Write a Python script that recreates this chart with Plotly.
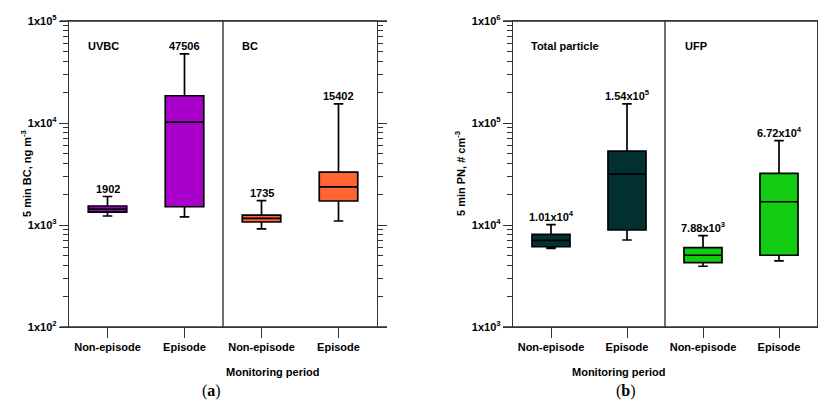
import numpy as np
import plotly.graph_objects as go

# ---- data ----
periods = ["Non-episode", "Episode", "Non-episode", "Episode"]

# panel (a): UVBC (first two), BC (last two), ng m-3
bc_q1 = [1340, 1510, 1070, 1720]
bc_median = [1430, 10200, 1160, 2360]
bc_q3 = [1535, 18500, 1250, 3300]
bc_low = [1225, 1200, 915, 1095]
bc_high = [1902, 47506, 1735, 15402]
bc_labels = ["1902", "47506", "1735", "15402"]
bc_colors = ["#9A00BA", "#AA00CC", "#FF6633", "#FF6633"]

# panel (b): Total particle (first two), UFP (last two), # cm-3
pn_q1 = [6120, 8930, 4270, 5050]
pn_median = [7080, 31600, 5050, 16900]
pn_q3 = [8110, 53100, 5990, 32100]
pn_low = [5910, 7130, 3940, 4440]
pn_high = [10100, 154000, 7880, 67200]
pn_labels = ["1.01x10<sup>4</sup>", "1.54x10<sup>5</sup>",
             "7.88x10<sup>3</sup>", "6.72x10<sup>4</sup>"]
pn_colors = ["#033030", "#033030", "#11CC11", "#11CC11"]

group_labels_a = ["UVBC", "BC"]
group_labels_b = ["Total particle", "UFP"]

bc_ticks = [1e2, 1e3, 1e4, 1e5]
bc_ticktext = ["1x10<sup>2</sup>", "1x10<sup>3</sup>", "1x10<sup>4</sup>", "1x10<sup>5</sup>"]
pn_ticks = [1e3, 1e4, 1e5, 1e6]
pn_ticktext = ["1x10<sup>3</sup>", "1x10<sup>4</sup>", "1x10<sup>5</sup>", "1x10<sup>6</sup>"]

FONT = "Liberation Sans, Arial, sans-serif"
LC = "#333333"
W, H = 818, 401

fig = go.Figure()

def add_boxes(q1, med, q3, lo, hi, colors, xa, ya):
    for i in range(4):
        fig.add_trace(go.Box(
            x=[i], q1=[q1[i]], median=[med[i]], q3=[q3[i]],
            lowerfence=[lo[i]], upperfence=[hi[i]],
            fillcolor=colors[i], line=dict(color="black", width=1.7),
            width=0.5, whiskerwidth=0.25, boxpoints=False,
            xaxis=xa, yaxis=ya, showlegend=False, hoverinfo="skip"))

add_boxes(bc_q1, bc_median, bc_q3, bc_low, bc_high, bc_colors, "x", "y")
add_boxes(pn_q1, pn_median, pn_q3, pn_low, pn_high, pn_colors, "x2", "y2")

def minor_vals(lo_exp, hi_exp):
    return [m * 10 ** e for e in range(lo_exp, hi_exp) for m in range(2, 10)]

xcommon = dict(tickmode="array", tickvals=list(range(4)), ticktext=periods,
               range=[-0.5, 3.5], ticks="outside", ticklen=10, tickwidth=1.4,
               tickcolor=LC, showline=True, linecolor=LC, linewidth=1.4,
               mirror=True, showgrid=False, zeroline=False,
               tickfont=dict(family=FONT, size=11, color="black", weight="bold"))

def yaxis_cfg(rng, ticks, ticktext, anchor, mirror):
    return dict(type="log", range=rng, tickmode="array", tickvals=ticks,
                ticktext=ticktext, ticks="outside", ticklen=9, tickwidth=1.4,
                tickcolor=LC, showline=True, linecolor=LC, linewidth=1.4,
                mirror=mirror, showgrid=False, zeroline=False, anchor=anchor,
                minor=dict(tickmode="array",
                           tickvals=minor_vals(int(rng[0]), int(rng[1])),
                           ticks="outside", ticklen=5, tickwidth=1.2,
                           tickcolor=LC, showgrid=False),
                tickfont=dict(family=FONT, size=11, color="black", weight="bold"))

fig.update_layout(
    width=W, height=H,
    margin=dict(l=0, r=0, t=21, b=74),
    paper_bgcolor="white", plot_bgcolor="white",
    boxmode="overlay",
    xaxis=dict(domain=[69 / W, 377 / W], anchor="y", **xcommon),
    xaxis2=dict(domain=[513 / W, 817 / W], anchor="y2", **xcommon),
    yaxis=yaxis_cfg([2, 5], bc_ticks, bc_ticktext, "x", "ticks"),
    yaxis2=yaxis_cfg([3, 6], pn_ticks, pn_ticktext, "x2", True),
)

# dividers between groups
for xa, ya in [("x", "y"), ("x2", "y2")]:
    fig.add_shape(type="line", xref=xa, yref=ya + " domain", x0=1.5, x1=1.5,
                  y0=0, y1=1, line=dict(color=LC, width=1.4))

# extended frame lines (top/bottom)
for x0, x1 in [(60 / W, 387 / W), (503 / W, 1.0)]:
    for yy in [0, 1]:
        fig.add_shape(type="line", xref="paper", yref="paper", x0=x0, x1=x1,
                      y0=yy, y1=yy, line=dict(color=LC, width=1.4))

bold = dict(family=FONT, size=11, color="black", weight="bold")

# max labels
for i in range(4):
    fig.add_annotation(x=i, y=np.log10(bc_high[i]), xref="x", yref="y",
                       text=bc_labels[i], showarrow=False, yanchor="bottom",
                       yshift=0, font=bold)
    fig.add_annotation(x=i, y=np.log10(pn_high[i]), xref="x2", yref="y2",
                       text=pn_labels[i], showarrow=False, yanchor="bottom",
                       yshift=0, font=bold)

# group labels
for txt, xd, xa in [(group_labels_a[0], 0.055, "x"), (group_labels_a[1], 0.555, "x"),
                    (group_labels_b[0], 0.053, "x2"), (group_labels_b[1], 0.559, "x2")]:
    ya = "y" if xa == "x" else "y2"
    fig.add_annotation(x=xd, y=0.918, xref=xa + " domain", yref=ya + " domain",
                       text=txt, showarrow=False, xanchor="left",
                       yanchor="middle", font=bold)

# axis titles
fig.add_annotation(x=17 / W, y=0.5, xref="paper", yref="paper",
                   text="5 min BC, ng m<sup>-3</sup>", textangle=-90,
                   showarrow=False, font=bold)
fig.add_annotation(x=460 / W, y=0.5, xref="paper", yref="paper",
                   text="5 min PN, # cm<sup>-3</sup>", textangle=-90,
                   showarrow=False, font=bold)
for xc in [224 / W, 667 / W]:
    fig.add_annotation(x=xc, y=-0.147, xref="paper", yref="paper",
                       text="Monitoring period", showarrow=False,
                       yanchor="middle", font=bold)

# panel letters
for xc, letter in [(200 / W, "a"), (638 / W, "b")]:
    fig.add_annotation(x=xc, y=-0.210, xref="paper", yref="paper",
                       text="(<b>%s</b>)" % letter, showarrow=False,
                       yanchor="middle",
                       font=dict(family="Liberation Serif, serif", size=16,
                                 color="black"))

fig.write_html("out.html", config={"displayModeBar": False},
               post_script="document.body.style.margin='0';"
                           "document.body.style.overflow='hidden';")
